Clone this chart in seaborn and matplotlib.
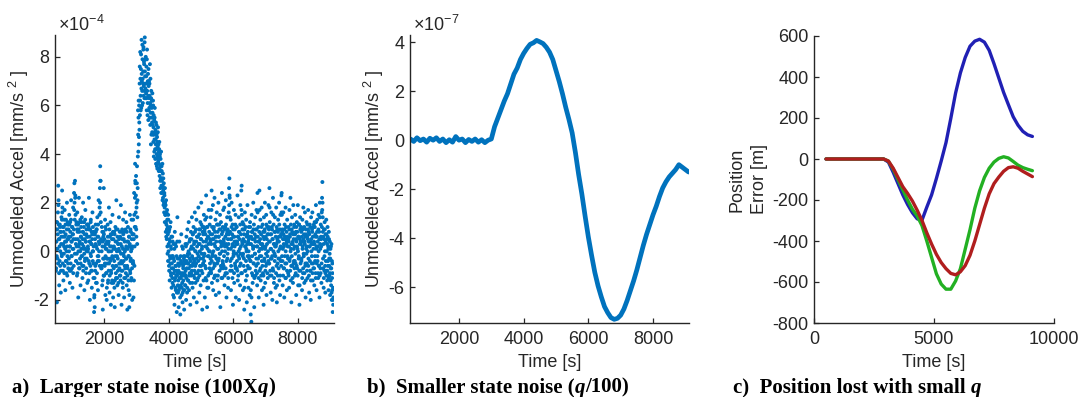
import numpy as np
import pandas as pd
import matplotlib
matplotlib.use("Agg")
import matplotlib.pyplot as plt
import seaborn as sns

# ---------------- data ----------------
# (a) unmodeled accel, larger state noise, units of 1e-4 mm/s^2
# samples every 10 s from 500 s ...
a_t0, a_dt = 500, 10
accel_a = [
    0.4,-0.8,1.2,0.1,-2.1,0.9,-0.3,1.6,2.7,2.1,0.5,-1.4,0.2,1.1,-0.6,0.8,-1.7,0.3,1.4,-0.2,
    2.5,1.8,-0.5,0.6,-1.2,1.0,0.2,-0.9,1.7,0.4,-1.6,0.7,1.3,-0.4,0.0,2.0,-1.0,0.5,1.1,-0.7,
    0.9,-0.3,1.5,0.2,-1.3,1.2,0.6,-0.8,2.1,0.4,-0.2,1.0,-1.5,0.7,1.8,0.1,-0.6,2.4,2.8,1.3,
    2.9,2.3,0.5,-0.4,1.1,0.2,-1.0,1.6,0.8,-0.5,-1.9,0.9,2.2,0.3,-0.7,1.2,0.0,-1.4,0.6,1.0,
    -0.2,1.4,0.3,-1.1,0.8,2.0,-0.6,0.1,1.2,-1.6,0.5,-0.3,1.7,0.4,-0.9,0.7,0.0,1.1,-1.3,0.6,
    0.2,-1.2,1.0,2.2,-0.5,0.4,-2.0,0.9,-0.1,1.3,-0.8,0.3,-1.5,0.7,1.6,-0.4,0.0,-1.1,0.8,-2.5,
    -1.8,-2.3,0.5,-0.6,1.1,-1.3,0.2,0.9,-0.9,1.4,-0.2,-1.6,0.6,2.1,-0.4,0.3,1.8,2.6,3.5,2.9,
    1.2,0.4,-0.7,1.0,-1.4,0.2,-2.4,-0.3,0.8,2.6,-1.0,0.5,-0.6,1.3,-1.8,0.1,0.9,-0.9,-2.0,0.4,
    -0.5,1.1,-1.3,0.3,-0.8,1.8,0.0,-1.7,0.6,-0.4,1.2,-2.2,-0.9,0.2,0.7,-1.2,1.5,-0.3,-1.9,0.5,
    -0.7,0.8,-1.5,-2.3,0.1,1.0,-0.6,-1.1,2.1,0.4,-0.2,-1.4,0.9,-0.8,0.3,-1.8,1.4,-0.5,0.0,-1.0,
    0.6,-1.2,1.9,-0.4,-2.2,0.2,0.9,-0.8,-1.5,1.3,-0.1,0.5,-1.9,0.8,-0.6,1.6,-1.1,0.1,-0.3,1.2,
    -1.4,0.4,-2.4,-0.7,1.0,-0.2,-1.6,0.6,-2.3,0.2,1.5,-0.9,-0.4,0.8,-1.2,1.3,0.1,-2.0,0.7,-0.5,
    1.3,-1.9,0.5,2.4,-0.6,1.0,3.6,2.8,1.6,3.1,0.6,2.0,3.5,1.4,2.6,5.8,4.1,6.2,4.7,5.3,
    6.9,5.6,8.2,6.4,7.5,5.9,8.7,7.0,6.6,7.9,6.1,7.4,8.4,6.8,7.7,6.3,8.8,7.2,6.7,8.0,
    6.5,7.6,5.8,8.3,6.9,6.1,7.3,5.4,6.8,7.0,5.9,6.4,7.7,5.2,6.0,4.4,6.6,5.5,6.2,4.9,
    5.7,4.8,6.0,5.1,3.9,5.4,4.6,5.9,4.2,5.0,4.4,3.6,5.2,4.0,4.7,3.4,4.3,5.1,3.8,4.1,
    3.6,4.5,3.1,4.0,2.6,3.8,3.3,2.4,3.5,2.9,3.0,2.1,3.2,2.5,1.9,2.8,1.6,2.3,1.2,2.0,
    1.5,0.8,2.1,1.1,0.5,1.7,0.2,1.0,-0.4,1.3,0.3,-0.6,0.9,-1.2,0.4,-0.3,1.2,-0.9,0.1,-1.5,
    -0.5,0.6,-1.3,-0.2,-1.8,0.3,-0.9,-0.4,-2.2,0.8,-1.1,-0.6,-1.6,0.2,-0.8,-2.5,-1.0,1.4,-0.3,-1.7,
    -1.2,-2.3,-0.6,0.4,-1.5,-0.9,-2.6,-0.2,-1.1,0.7,-1.8,-0.5,-1.3,-2.1,0.1,-0.7,-1.6,-0.3,-2.4,-0.9,
    -0.4,-1.4,0.3,-1.0,-2.0,0.6,-0.7,-1.7,0.9,-0.2,-1.2,-0.5,1.2,-1.6,-0.1,-0.9,0.5,-2.2,-0.4,0.8,
    -1.0,0.2,1.4,-0.6,-1.5,0.7,-0.3,1.0,-1.9,0.4,-0.8,1.6,0.0,-1.3,0.9,-0.5,1.3,-2.1,0.2,-0.9,
    0.6,-1.1,1.8,-0.2,0.9,-1.7,0.3,-0.6,1.2,-1.4,0.5,2.0,-0.8,0.1,-2.4,1.0,-0.3,0.7,-1.2,1.5,
    -0.4,0.8,-1.9,1.3,0.2,-0.7,2.3,-1.2,0.5,-2.3,1.0,-0.2,0.6,-1.5,1.7,0.0,-0.9,1.1,-0.5,0.4,
    1.4,-0.8,0.3,2.5,-1.3,0.7,-0.2,1.9,-1.6,0.5,1.0,-0.5,2.2,-1.0,0.2,1.3,-1.8,0.6,-0.3,1.6,
    0.1,-1.2,1.1,-0.4,2.0,0.6,-1.7,0.9,-0.1,1.5,-2.3,0.4,1.2,-0.7,0.3,2.4,-1.1,0.8,-0.5,1.7,
    -0.6,0.5,1.8,-1.4,0.2,1.0,-0.9,2.1,0.3,-1.9,0.7,1.4,-0.3,0.9,-1.5,0.1,1.6,2.6,3.0,2.2,
    0.8,-0.4,1.3,-1.6,0.5,2.0,-0.8,0.2,1.1,-2.2,0.6,-0.1,1.7,-1.3,0.4,0.9,-0.6,1.5,-1.9,0.3,
    1.0,-0.7,0.4,2.3,-1.2,0.6,-0.2,1.4,-2.0,0.8,0.1,-1.4,1.9,-0.5,0.7,2.5,2.7,-0.9,0.3,1.2,
    -1.6,0.5,1.1,-0.3,-2.4,0.9,1.6,-0.8,0.2,-1.2,1.3,0.0,-2.1,0.7,1.9,-0.6,0.4,-1.5,1.0,-0.2,
    0.6,-1.8,1.2,-0.4,-2.6,0.3,-2.9,1.5,-0.9,0.8,-1.3,0.2,2.0,-0.5,1.1,-2.3,0.5,-0.1,1.4,-1.0,
    0.9,-0.6,1.7,0.2,-1.4,2.4,0.6,-0.3,1.0,-1.9,0.4,2.5,-0.8,0.1,1.3,-1.2,0.7,-0.2,1.8,-1.6,
    0.3,1.1,-0.9,0.6,-2.2,1.4,-0.4,0.8,2.0,-1.3,0.2,-0.6,1.5,-1.8,0.5,1.0,-0.2,-1.1,0.7,1.9,
    -0.5,0.4,2.6,1.2,-1.0,0.7,-1.7,0.1,1.6,-0.3,0.9,-2.0,0.5,2.2,-0.8,1.1,-1.3,0.3,-0.1,1.4,
    0.8,-1.5,0.2,1.8,-0.6,-2.1,0.9,0.4,-1.0,1.3,-0.3,0.6,2.0,-1.2,0.1,-1.8,1.5,-0.4,0.7,2.3,
    2.4,-0.2,0.9,-1.4,0.5,1.6,-0.7,0.2,-1.9,1.1,0.6,-0.5,1.8,-1.1,0.3,0.8,-1.6,1.3,-0.2,0.5,
    -0.9,1.0,0.4,-1.5,1.7,-0.3,0.7,2.2,-1.2,0.1,-2.1,0.9,1.4,-0.6,0.3,-1.3,1.9,0.5,-0.4,1.1,
    0.2,-1.0,1.5,-0.5,0.8,-1.8,0.4,1.2,-0.7,0.1,1.9,-1.4,0.6,-0.2,1.1,-2.2,0.5,1.4,-0.8,0.3,
    1.0,-0.4,0.6,-1.6,1.3,0.2,-0.9,1.8,-0.1,0.7,-1.3,0.4,1.6,-0.6,-1.9,0.9,0.1,1.2,-0.5,0.6,
    -1.1,0.5,1.7,-0.3,0.8,-1.7,0.2,1.1,-0.8,0.4,-2.0,1.4,0.0,-0.5,0.9,1.6,-1.2,0.3,-0.7,1.0,
    0.4,-1.4,1.2,-0.2,0.7,-0.9,1.9,0.1,-1.6,0.6,1.3,-0.4,0.2,-1.1,1.5,-0.6,0.8,-1.9,2.0,0.3,
    -0.7,1.1,0.5,-1.3,1.6,2.2,2.85,1.4,-0.3,0.6,-1.5,0.9,-0.8,1.2,0.0,-1.7,0.7,-0.4,1.3,-1.0,
    0.5,-1.2,1.0,-0.6,0.2,-1.6,0.8,-0.3,-1.0,0.4,-1.8,0.1,-0.7,-1.4,0.3,-2.0,-1.1,-0.5,-2.5,-1.5,
    -1.9,
]
# ... and the in-between samples every 10 s from 505 s
a_mid_t0 = 505
accel_a_mid = [
    0.9,-0.7,0.4,-0.2,1.2,0.1,0.7,-0.5,1.9,1.1,-0.9,0.5,-0.4,1.0,0.0,0.8,-0.8,0.6,-0.1,1.3,
    1.6,1.0,-0.8,0.3,0.8,-0.1,1.3,-0.6,0.6,0.1,1.1,-0.4,0.4,-0.9,0.9,0.2,-0.2,1.2,-0.5,0.5,
    0.6,0.0,1.1,-0.8,0.2,0.8,-0.5,1.3,-0.2,0.4,-0.7,1.0,0.1,0.7,-0.9,0.5,0.9,1.7,2.0,-0.1,
    2.2,1.5,0.3,-0.4,1.2,-0.1,0.9,-0.9,0.5,1.1,0.0,0.2,-0.7,0.8,0.4,-0.3,1.3,-0.5,0.6,0.1,
    1.2,-0.2,-0.6,0.5,0.8,-0.8,0.2,1.0,-0.1,0.7,-0.4,1.3,0.1,0.4,-0.7,0.9,-0.3,0.6,1.1,0.0,
    0.1,1.1,-0.4,0.9,-0.9,0.6,0.4,-0.6,1.2,-0.2,0.3,0.8,-0.8,0.5,0.0,1.0,-0.5,0.2,0.7,-1.9,
    -1.1,0.7,-0.8,0.3,0.8,-0.5,0.9,-1.3,0.1,0.6,-0.4,1.1,-0.2,0.4,0.0,1.5,-0.6,2.0,2.9,1.6,
    0.5,-0.7,0.0,-0.6,0.8,-1.2,0.4,0.6,-1.0,0.7,-0.3,0.2,-0.5,1.0,-0.2,0.3,-0.9,0.1,-1.5,-0.3,
    -0.3,0.6,-1.2,0.0,0.4,-0.5,0.9,-1.0,0.2,-0.3,0.7,-0.8,0.0,-1.3,0.5,-0.2,-0.6,0.8,-1.3,0.1,
    0.2,-0.4,0.7,-1.2,-0.2,0.4,-0.9,0.9,-0.6,0.0,-1.1,0.6,-0.3,0.3,-1.3,0.1,0.5,-0.7,0.8,-0.5,
    -1.0,0.3,-0.1,-0.8,0.8,-0.5,0.5,-1.3,0.1,0.7,-0.4,-0.2,-1.1,0.4,0.0,-0.7,0.9,-0.9,0.2,-0.3,
    0.8,-0.6,-1.0,0.1,0.4,-1.2,-0.2,0.6,-1.8,0.3,-0.8,0.9,-0.3,0.0,-1.1,0.5,-0.7,0.2,0.7,-0.4,
    -0.5,0.7,-1.2,1.5,0.2,2.2,2.9,1.0,2.3,0.9,1.8,2.8,0.3,2.1,3.9,4.8,5.5,4.4,6.0,5.0,
    7.6,6.2,7.1,5.8,8.1,6.7,7.3,6.0,8.5,7.1,6.9,8.3,6.4,7.8,6.6,8.6,7.4,6.9,7.9,6.3,
    7.2,6.3,7.9,6.6,5.6,7.0,6.4,7.5,5.8,6.3,6.9,5.5,6.1,7.1,5.7,6.3,4.8,5.9,5.3,6.5,
    5.2,6.2,4.5,5.6,4.8,4.1,5.5,4.9,3.8,4.6,5.3,4.2,4.8,3.5,4.5,3.9,4.9,3.7,4.4,3.3,
    4.2,3.4,3.9,2.9,3.5,3.0,4.1,2.7,3.3,2.4,3.6,2.7,2.2,3.0,2.6,2.0,2.4,1.8,2.6,1.5,
    1.9,1.2,0.6,1.6,0.9,1.3,-0.1,0.7,1.5,0.0,0.8,-0.8,0.5,-0.2,1.0,-0.5,0.2,-1.0,0.6,-0.7,
    -0.2,-1.1,0.4,-0.7,-1.4,-0.3,-1.9,0.1,-0.8,-1.2,0.3,-1.5,-0.6,-1.0,-0.2,-1.7,0.4,-0.9,-1.4,-0.5,
    -0.8,-1.6,-0.3,-1.1,-0.5,-1.9,-0.9,-1.4,-0.4,-1.0,-1.5,0.2,-0.9,-1.7,-0.6,-1.2,-0.2,-1.0,-1.6,-0.5,
    -0.2,-1.4,-0.8,0.2,-1.1,-0.4,0.3,-1.5,-0.5,-0.1,-1.2,0.0,-0.7,-1.0,0.4,-0.3,-1.3,-0.6,0.1,-0.9,
    0.5,-0.8,-0.2,-1.3,0.7,-0.5,0.1,-1.0,0.3,-0.4,-1.1,0.8,-0.6,0.0,-0.9,0.4,-0.3,0.6,-1.2,-0.1,
    0.6,-0.4,-0.8,0.3,0.7,-1.0,0.0,0.9,-0.3,0.5,-0.6,1.1,-0.1,0.2,-0.9,0.8,-0.5,0.4,1.0,-0.2,
    -0.1,0.9,-0.6,0.7,-1.1,0.4,0.2,1.4,1.0,-1.5,0.1,0.6,-1.0,0.3,-0.2,0.8,-0.7,0.0,0.5,-0.3,
    0.7,-0.9,1.7,-0.4,1.0,-0.1,0.5,-0.7,0.0,0.9,-1.1,0.3,-0.6,0.8,-0.2,0.6,-1.0,0.4,-0.3,1.1,
    -0.5,0.8,-1.0,0.1,0.6,-0.3,1.1,-0.8,0.4,-0.1,0.9,-0.6,0.2,-1.1,0.7,0.0,-0.4,1.0,-0.7,0.3,
    0.4,-0.2,0.9,-1.0,0.0,0.6,-0.7,1.1,-0.4,0.2,-0.9,0.8,-0.1,0.5,-1.1,0.3,0.7,1.9,2.3,1.4,
    -0.8,0.5,0.1,-0.6,1.0,-0.3,0.7,-1.1,0.3,0.9,-0.2,0.0,-0.9,0.6,0.2,-0.5,1.1,-0.7,0.4,-0.1,
    1.0,-0.4,-0.8,0.3,0.6,-1.0,0.0,0.8,-0.3,0.5,-0.6,1.1,-0.1,0.2,-0.9,1.7,1.5,0.4,0.9,-0.2,
    -0.1,0.9,-0.6,0.7,-1.5,0.4,0.2,-0.8,1.0,-0.4,0.1,0.6,-1.0,0.3,-0.2,0.8,-0.7,0.0,0.5,-0.3,
    0.3,-0.7,1.0,-0.4,-1.6,0.6,-1.9,0.8,-0.2,0.5,-1.0,0.1,0.9,-0.5,0.2,-1.1,0.7,-0.1,0.4,-0.8,
    0.6,-0.3,0.9,-0.9,0.2,1.6,-0.5,0.4,-1.1,0.0,0.8,1.7,-0.2,0.5,-0.7,0.3,-1.0,1.0,-0.4,0.1,
    -0.6,0.2,0.8,-1.0,-1.5,0.5,-0.3,0.9,0.1,-0.8,0.6,-0.1,1.1,-0.5,0.3,-0.9,0.7,0.0,-0.4,1.0,
    0.9,-0.5,1.8,0.4,-0.8,0.1,-0.3,0.7,-1.0,1.0,-0.2,0.5,-0.7,1.5,0.0,0.3,-1.1,0.8,-0.4,0.2,
    -0.2,0.6,-0.9,0.3,1.0,-1.4,0.5,-0.5,0.8,0.0,-0.7,0.4,1.1,-0.3,0.9,-1.0,0.2,0.6,-0.6,1.6,
    1.5,0.8,-0.4,0.1,-1.0,0.7,0.3,-0.7,0.9,-0.2,0.5,-1.1,0.0,1.0,-0.5,0.4,-0.8,0.6,0.2,-0.3,
    0.5,-1.0,0.2,0.9,-0.4,0.6,-0.8,0.0,1.1,-0.6,0.3,-0.2,0.8,-1.1,0.4,0.7,-0.5,0.1,1.0,-0.7,
    -0.4,0.7,-0.1,-0.9,0.5,1.0,-0.6,0.2,0.8,-1.0,0.0,0.6,-0.3,1.1,-0.8,-1.4,0.3,0.9,-0.5,0.4,
    0.8,-0.3,0.4,-1.1,0.1,0.9,-0.7,0.5,-0.2,1.0,-0.9,0.3,0.6,-0.5,-1.2,0.7,-0.1,0.2,-0.8,1.1,
    0.0,0.9,-0.6,0.4,-1.0,0.7,0.2,-0.4,1.0,-0.8,-1.2,0.5,0.3,-0.2,0.8,-0.9,0.6,-0.5,0.1,1.1,
    -0.7,0.3,1.0,-0.4,0.6,-1.1,1.2,0.2,-0.5,0.8,-0.2,0.4,-0.9,0.9,0.0,-0.6,0.5,-1.0,1.4,0.1,
    -0.9,0.6,0.2,-0.5,1.0,1.7,2.0,0.8,-0.7,0.3,-1.1,0.5,-0.2,0.9,-0.6,-0.9,0.4,-0.8,0.7,0.0,
    0.3,-0.8,0.6,-0.4,0.1,-1.1,0.5,-0.6,-0.1,-0.9,-0.3,-1.2,0.2,-0.7,-1.7,-0.4,-1.6,-0.9,-2.0,-2.2,
]

# (b) unmodeled accel, smaller state noise, units of 1e-7 mm/s^2, 100 s steps from 500 s
b_t0, b_dt = 500, 100
accel_b = [
    0.05,-0.05,0.10,-0.02,0.05,-0.08,0.08,0.00,0.10,-0.05,
    0.05,-0.10,0.02,-0.08,0.15,0.00,0.05,-0.10,0.03,-0.05,
    0.05,-0.08,0.02,-0.10,0.00,0.05,0.55,0.90,1.25,1.60,
    1.90,2.30,2.70,2.95,3.30,3.55,3.75,3.92,3.98,4.08,
    4.02,3.95,3.80,3.60,3.30,2.85,2.40,1.90,1.35,0.85,
    0.30,-0.50,-1.40,-2.20,-3.10,-3.95,-4.70,-5.40,-5.95,-6.40,
    -6.80,-7.05,-7.25,-7.32,-7.28,-7.15,-6.90,-6.55,-6.15,-5.75,
    -5.30,-4.80,-4.30,-3.85,-3.45,-3.05,-2.70,-2.30,-1.95,-1.70,
    -1.50,-1.35,-1.20,-1.00,-1.10,-1.20,-1.30,
]

# (c) position error [m], 200 s steps from 500 s
c_time = [500,700,900,1100,1300,1500,1700,1900,2100,2300,2500,2700,2900,
          3100,3300,3500,3700,3900,4100,4300,4500,4700,4900,5100,5300,5500,5700,5900,
          6100,6300,6500,6700,6900,7100,7300,7500,7700,7900,8100,8300,8500,8700,8900,9100]
flat = [0]*13
err_blue = flat + [-15,-65,-120,-175,-222,-262,-292,-298,-235,-175,
                   -95,-10,80,198,322,420,495,550,575,584,
                   570,530,465,395,325,265,206,165,135,118,110]
err_green = flat + [-10,-50,-100,-150,-200,-245,-278,-325,-400,-480,
                    -560,-610,-635,-635,-595,-535,-440,-345,-240,-155,
                    -90,-45,-15,3,11,5,-12,-30,-42,-50,-57]
err_red = flat + [-10,-45,-90,-135,-168,-205,-250,-300,-360,-415,
                  -465,-505,-535,-558,-565,-550,-520,-470,-400,-320,
                  -240,-170,-120,-88,-60,-42,-38,-45,-60,-73,-86]

captions = [
    [("a)  Larger state noise (100X", "normal"), ("q", "italic"), (")", "normal")],
    [("b)  Smaller state noise (", "normal"), ("q", "italic"), ("/100)", "normal")],
    [("c)  Position lost with small ", "normal"), ("q", "italic")],
]

# ---------------- style ----------------
sns.set_style("ticks")
plt.rcParams.update({
    "font.family": ["Liberation Sans", "DejaVu Sans"],
    "axes.unicode_minus": False,
    "mathtext.fontset": "custom",
    "mathtext.rm": "Liberation Sans",
    "mathtext.it": "Liberation Sans:italic",
    "mathtext.bf": "Liberation Sans:bold",
})
GRAY = "#262626"
MBLUE = "#0072BD"
FS = 13

W, H = 1080, 397
fig = plt.figure(figsize=(W / 100, H / 100), dpi=100)

def px_axes(left, top, right, bottom):
    return fig.add_axes([left / W, (H - bottom) / H, (right - left) / W, (bottom - top) / H])

axa = px_axes(55, 35, 334, 323)
axb = px_axes(410, 35, 689, 323)
axc = px_axes(814, 36, 1054, 323)

def style_axes(ax):
    for s in ["top", "right"]:
        ax.spines[s].set_visible(False)
    for s in ["left", "bottom"]:
        ax.spines[s].set_color(GRAY)
        ax.spines[s].set_linewidth(1.0)
    ax.tick_params(direction="in", length=3.5, width=0.9, colors=GRAY,
                   labelsize=FS, labelcolor=GRAY)
    ax.tick_params(axis="x", pad=6)
    ax.tick_params(axis="y", pad=4)

# (a)
df_a = pd.DataFrame({
    "t": np.concatenate([a_t0 + a_dt * np.arange(len(accel_a)),
                         a_mid_t0 + a_dt * np.arange(len(accel_a_mid))]),
    "v": accel_a + accel_a_mid,
})
sns.scatterplot(data=df_a, x="t", y="v", ax=axa, s=8, color=MBLUE,
                linewidth=0, edgecolor="none", legend=False)
axa.set_xlim(480, 9120)
axa.set_ylim(-2.95, 8.9)
axa.set_xticks([2000, 4000, 6000, 8000])
axa.set_yticks([-2, 0, 2, 4, 6, 8])

# (b)
df_b = pd.DataFrame({"t": b_t0 + b_dt * np.arange(len(accel_b)), "v": accel_b})
sns.lineplot(data=df_b, x="t", y="v", ax=axb, color=MBLUE, linewidth=3.4,
             estimator=None, sort=False)
axb.set_xlim(485, 9113)
axb.set_ylim(-7.47, 4.3)
axb.set_xticks([2000, 4000, 6000, 8000])
axb.set_yticks([-6, -4, -2, 0, 2, 4])

# (c)
df_c = pd.DataFrame({"t": c_time * 3,
                     "v": err_blue + err_green + err_red,
                     "s": ["blue"] * len(c_time) + ["green"] * len(c_time) + ["red"] * len(c_time)})
sns.lineplot(data=df_c, x="t", y="v", hue="s", ax=axc, linewidth=2.4,
             palette={"blue": "#2020B4", "green": "#22B022", "red": "#B01E1E"},
             estimator=None, sort=False, legend=False)
axc.set_xlim(0, 10000)
axc.set_ylim(-800, 600)
axc.set_xticks([0, 5000, 10000])
axc.set_yticks(np.arange(-800, 601, 200))

for ax in (axa, axb, axc):
    style_axes(ax)
    ax.set_xlabel("Time [s]", fontsize=FS, color=GRAY, labelpad=4)

axa.set_ylabel("Unmodeled Accel [mm/s $^{2}$ ]", fontsize=FS, color=GRAY, labelpad=2)
axb.set_ylabel("Unmodeled Accel [mm/s $^{2}$ ]", fontsize=FS, color=GRAY, labelpad=2)
axc.set_ylabel("Position\nError [m]", fontsize=FS, color=GRAY, labelpad=3, linespacing=1.45)

axa.text(0.01, 1.0, r"$\times$10$^{-4}$", transform=axa.transAxes, fontsize=FS,
         color=GRAY, ha="left", va="bottom")
axb.text(0.01, 1.0, r"$\times$10$^{-7}$", transform=axb.transAxes, fontsize=FS,
         color=GRAY, ha="left", va="bottom")

# captions (bold serif, italic q)
fig.canvas.draw()
renderer = fig.canvas.get_renderer()
cap_x = [12, 367, 733]
for x0, parts in zip(cap_x, captions):
    x = x0
    for txt, style in parts:
        t = fig.text(x / W, 4.5 / H, txt, fontsize=15, fontweight="bold",
                     fontstyle=style, family=["Liberation Serif", "DejaVu Serif"],
                     color="black", ha="left", va="baseline")
        bb = t.get_window_extent(renderer=renderer)
        x = bb.x1

fig.savefig("out.png", dpi=100)
